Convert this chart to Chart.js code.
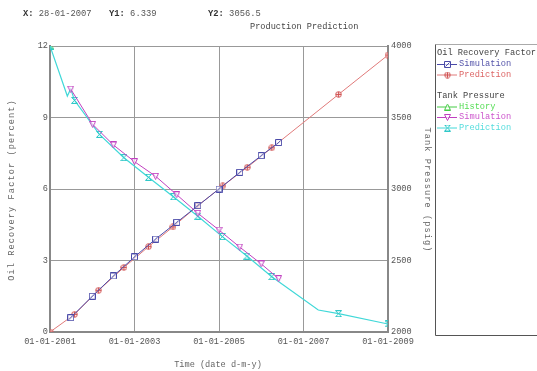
<!DOCTYPE html>
<html>
<head>
<meta charset="utf-8">
<script src="https://cdn.jsdelivr.net/npm/chart.js@4.4.0/dist/chart.umd.min.js"></script>
<style>
  html, body { margin: 0; padding: 0; background: #fff; }
  #wrap { position: relative; width: 537px; height: 371px; }
</style>
</head>
<body>
<div id="wrap"><canvas id="chart" width="537" height="371"></canvas></div>
<script>
// === Datos ===
const xTicks = [2001, 2003, 2005, 2007, 2009];

// Oil Recovery Factor (percent)
const orfSimYears  = [2001.49, 2002.0, 2002.5, 2003.0, 2003.5, 2004.0, 2004.5, 2005.0, 2005.49, 2006.0, 2006.41];
const orfSimValues = [0.6, 1.5, 2.35, 3.15, 3.9, 4.6, 5.3, 6.0, 6.7, 7.4, 7.95];
const orfPredYears  = [2001, 2001.58, 2002.15, 2002.75, 2003.33, 2003.91, 2004.5, 2005.09, 2005.67, 2006.25, 2007.83, 2009];
const orfPredValues = [0, 0.74, 1.75, 2.71, 3.58, 4.41, 5.3, 6.13, 6.91, 7.73, 9.97, 11.62];

// Tank Pressure (psig)
const tpHistYears  = [2001];
const tpHistValues = [4000];
const tpSimYears  = [2001.49, 2002.01, 2002.5, 2003.0, 2003.5, 2004.0, 2004.5, 2005.0, 2005.49, 2006.0, 2006.41];
const tpSimValues = [3699, 3452, 3308, 3191, 3089, 2960, 2830, 2713, 2594, 2476, 2373];
const tpPredYears  = [2001, 2001.41, 2001.49, 2001.58, 2002.17, 2002.75, 2003.33, 2003.92, 2004.5, 2005.08, 2005.66, 2006.25, 2007.35, 2007.83, 2009];
const tpPredValues = [4000, 3650, 3700, 3620, 3382, 3219, 3082, 2946, 2810, 2667, 2531, 2387, 2154, 2128, 2056];
const tpPredBends  = [2001.41, 2001.49, 2007.35]; // quiebres sin marcador

// === Estilo ===
const mono = "'Liberation Mono', 'Courier New', monospace";
const azul = "#4a4aa8";
const rojo = "#e07a7a";
const verde = "#44cc44";
const magenta = "#c040c0";
const cian = "#40d8d8";

function pares(xs, ys) {
  return xs.map((x, i) => ({ x: x, y: ys[i] }));
}

// marcadores pequeños dibujados a mano
function marcador(tipo, color) {
  const c = document.createElement("canvas");
  c.width = 7; c.height = 7;
  const g = c.getContext("2d");
  g.strokeStyle = color;
  g.fillStyle = "rgba(255,255,255,0.7)";
  g.lineWidth = 1;
  g.beginPath();
  if (tipo === "cuadro") {
    g.rect(0.5, 0.5, 6, 6);
    g.fill(); g.stroke();
    g.beginPath(); g.moveTo(1.5, 5.5); g.lineTo(5.5, 1.5);
  } else if (tipo === "circulo") {
    g.arc(3.5, 3.5, 2.8, 0, Math.PI * 2);
    g.fill(); g.stroke();
    g.beginPath(); g.moveTo(3.5, 1); g.lineTo(3.5, 6); g.moveTo(1, 3.5); g.lineTo(6, 3.5);
  } else if (tipo === "abajo") {
    g.moveTo(0.5, 0.5); g.lineTo(6.5, 0.5); g.lineTo(3.5, 6.5); g.closePath();
    g.fill();
  } else if (tipo === "arriba") {
    g.moveTo(0.5, 6.5); g.lineTo(6.5, 6.5); g.lineTo(3.5, 0.5); g.closePath();
    g.fill();
  } else if (tipo === "reloj") {
    g.moveTo(0.5, 0.5); g.lineTo(6.5, 0.5); g.lineTo(0.5, 6.5); g.lineTo(6.5, 6.5); g.closePath();
  }
  g.stroke();
  return c;
}

const mAzul = marcador("cuadro", azul);
const mRojo = marcador("circulo", "#d05050");
const mVerde = marcador("arriba", verde);
const mMagenta = marcador("abajo", magenta);
const mCian = marcador("reloj", "#30c8c8");

// === Textos, títulos y leyenda ===
const decoracion = {
  id: "decoracion",
  afterDraw(chart) {
    const ctx = chart.ctx;
    ctx.save();
    ctx.textBaseline = "middle";

    // encabezado
    const cab = [["X:", "28-01-2007", 23], ["Y1:", "6.339", 109], ["Y2:", "3056.5", 208]];
    cab.forEach(([k, v, x]) => {
      ctx.font = "bold 8.8px " + mono;
      ctx.fillStyle = "#333";
      ctx.textAlign = "left";
      ctx.fillText(k, x, 14);
      const w = ctx.measureText(k + " ").width;
      ctx.font = "8.8px " + mono;
      ctx.fillStyle = "#555";
      ctx.fillText(v, x + w, 14);
    });
    ctx.font = "8.6px " + mono;
    ctx.fillStyle = "#444";
    ctx.fillText("Production Prediction", 250, 27);

    // títulos de ejes
    ctx.fillStyle = "#666";
    ctx.textAlign = "center";
    ctx.font = "8.6px " + mono;
    ctx.fillText("Time (date d-m-y)", 218, 365);
    ctx.letterSpacing = "1.1px";
    ctx.save();
    ctx.translate(12, 190);
    ctx.rotate(-Math.PI / 2);
    ctx.fillText("Oil Recovery Factor (percent)", 0, 0);
    ctx.restore();
    ctx.save();
    ctx.translate(427, 190);
    ctx.rotate(Math.PI / 2);
    ctx.fillText("Tank Pressure (psig)", 0, 0);
    ctx.restore();
    ctx.letterSpacing = "0px";

    // caja de leyenda
    ctx.lineWidth = 1;
    ctx.strokeStyle = "#aaa";
    ctx.beginPath(); ctx.moveTo(435.5, 44.5); ctx.lineTo(537, 44.5); ctx.stroke();
    ctx.strokeStyle = "#555";
    ctx.beginPath(); ctx.moveTo(435.5, 44.5); ctx.lineTo(435.5, 335.5); ctx.lineTo(537, 335.5); ctx.stroke();

    const filas = [
      { texto: "Oil Recovery Factor", y: 53, color: "#444" },
      { texto: "Simulation", y: 64, color: "#5555aa", linea: azul, m: mAzul },
      { texto: "Prediction", y: 74.5, color: "#dd6666", linea: rojo, m: mRojo },
      { texto: "Tank Pressure", y: 96, color: "#444" },
      { texto: "History", y: 106.5, color: "#55dd55", linea: verde, m: mVerde },
      { texto: "Simulation", y: 117, color: "#cc55cc", linea: magenta, m: mMagenta },
      { texto: "Prediction", y: 127.5, color: "#55dddd", linea: cian, m: mCian }
    ];
    ctx.font = "8.7px " + mono;
    ctx.textAlign = "left";
    filas.forEach(f => {
      if (f.linea) {
        ctx.strokeStyle = f.linea;
        ctx.beginPath(); ctx.moveTo(437, f.y + 0.5); ctx.lineTo(457, f.y + 0.5); ctx.stroke();
        ctx.drawImage(f.m, 444, f.y - 3);
        ctx.fillStyle = f.color;
        ctx.fillText(f.texto, 459, f.y);
      } else {
        ctx.fillStyle = f.color;
        ctx.fillText(f.texto, 437, f.y);
      }
    });
    ctx.restore();
  }
};

const ticksFont = { family: mono, size: 8.6 };

new Chart(document.getElementById("chart"), {
  type: "line",
  data: {
    datasets: [
      {
        label: "Simulation",
        data: pares(tpSimYears, tpSimValues),
        yAxisID: "y2",
        borderColor: magenta,
        borderWidth: 1,
        pointStyle: mMagenta,
        pointRadius: 3,
        order: 1
      },
      {
        label: "Prediction",
        data: pares(tpPredYears, tpPredValues),
        yAxisID: "y2",
        borderColor: cian,
        borderWidth: 1.2,
        pointStyle: mCian,
        pointRadius: ctx => (ctx.raw && tpPredBends.includes(ctx.raw.x)) ? 0 : 3,
        order: 2
      },
      {
        label: "History",
        data: pares(tpHistYears, tpHistValues),
        yAxisID: "y2",
        borderColor: verde,
        borderWidth: 1,
        pointStyle: mVerde,
        pointRadius: 3,
        order: 3
      },
      {
        label: "Simulation",
        data: pares(orfSimYears, orfSimValues),
        yAxisID: "y",
        borderColor: azul,
        borderWidth: 1,
        pointStyle: mAzul,
        pointRadius: 3,
        order: 0
      },
      {
        label: "Prediction",
        data: pares(orfPredYears, orfPredValues),
        yAxisID: "y",
        borderColor: rojo,
        borderWidth: 1,
        pointStyle: mRojo,
        pointRadius: 3,
        order: 4
      }
    ]
  },
  options: {
    responsive: false,
    animation: false,
    tension: 0,
    layout: { padding: { top: 46, right: 102, bottom: 0, left: 0 } },
    plugins: {
      legend: { display: false },
      tooltip: { enabled: false }
    },
    scales: {
      x: {
        type: "linear",
        min: 2001,
        max: 2009,
        afterBuildTicks: s => { s.ticks = xTicks.map(v => ({ value: v })); },
        afterFit: s => { s.height = 39; },
        ticks: {
          callback: v => "01-01-" + v,
          font: ticksFont,
          color: "#555",
          padding: 5,
          maxRotation: 0,
          autoSkip: false
        },
        grid: { color: "#999", drawTicks: false },
        border: { color: "#888", width: 2 }
      },
      y: {
        position: "left",
        min: 0,
        max: 12,
        afterFit: s => { s.width = 50; },
        ticks: { stepSize: 3, font: ticksFont, color: "#555", padding: 2 },
        grid: { color: "#999", drawTicks: false },
        border: { color: "#888", width: 2 }
      },
      y2: {
        position: "right",
        min: 2000,
        max: 4000,
        afterFit: s => { s.width = 47; },
        ticks: { stepSize: 500, font: ticksFont, color: "#555", padding: 3, callback: v => String(v) },
        grid: { drawOnChartArea: false, drawTicks: false },
        border: { color: "#888", width: 2 }
      }
    }
  },
  plugins: [decoracion]
});
</script>
</body>
</html>
